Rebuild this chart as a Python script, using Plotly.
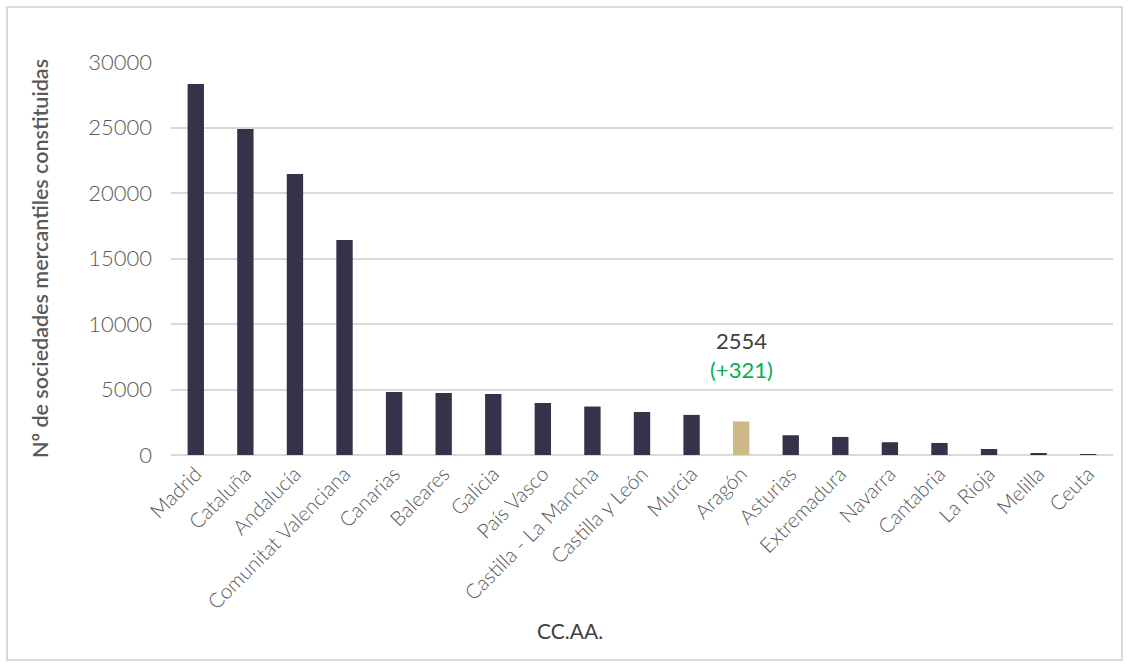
import plotly.graph_objects as go

categories = ["Madrid", "Cataluña", "Andalucía", "Comunitat Valenciana", "Canarias",
              "Baleares", "Galicia", "País Vasco", "Castilla - La Mancha", "Castilla y León",
              "Murcia", "Aragón", "Asturias", "Extremadura", "Navarra", "Cantabria",
              "La Rioja", "Melilla", "Ceuta"]
values = [28320, 24890, 21450, 16410, 4810, 4730, 4660, 3970, 3700, 3280,
          3060, 2554, 1510, 1380, 975, 920, 460, 80, 40]
highlight = "Aragón"
highlight_value_label = "2554"
highlight_change_label = "(+321)"
y_ticks = [0, 5000, 10000, 15000, 20000, 25000, 30000]
y_ticktext = ["0", "5000", "10000", "15000", "20000", "25000", "30000"]
x_title = "CC.AA."
y_title = "Nº de sociedades mercantiles constituidas"

dark = "#353249"
gold = "#CDB887"
colors = [gold if c == highlight else dark for c in categories]

fig = go.Figure(go.Bar(x=categories, y=values, marker_color=colors,
                       marker_line_width=0, width=0.33))

L, R, T, B = 171, 1131 - 1113, 62, 666 - 455
W, H = 1131, 666
pw, ph = W - L - R, H - T - B

fig.update_layout(
    width=W, height=H,
    margin=dict(l=L, r=R, t=T, b=B),
    plot_bgcolor="white", paper_bgcolor="white",
    font=dict(family="Lato, sans-serif", color="#595959"),
    showlegend=False,
    xaxis=dict(tickangle=-45, tickfont=dict(size=20.5, color="#595959", weight=300),
               showgrid=False, showline=False, ticks="", ticklabelstandoff=2),
    yaxis=dict(range=[0, 30000], tickvals=y_ticks, ticktext=y_ticktext,
               tickfont=dict(size=22, color="#595959", weight=300),
               ticklabelstandoff=18,
               gridcolor="#d9d9d9", gridwidth=1.5, zeroline=True, zerolinecolor="#d9d9d9",
               zerolinewidth=1.5, showline=False, ticks="", ticklen=0,
               title=dict(text=y_title,
                          font=dict(size=21.5, color="#595959", weight=600), standoff=33)),
    shapes=[dict(type="rect", xref="paper", yref="paper",
                 x0=(7 - L) / pw, x1=(1122 - L) / pw,
                 y0=(H - B - 660) / ph, y1=(H - B - 7) / ph,
                 line=dict(color="#d9d9d9", width=2), layer="below")],
    annotations=[
        dict(x=highlight, y=values[categories.index(highlight)],
             text=f"{highlight_value_label}<br><span style='color:#00B050'>{highlight_change_label}</span>",
             showarrow=False, yanchor="bottom", yshift=37,
             font=dict(size=22, color="#404040")),
        dict(xref="paper", yref="paper", x=(570 - L) / pw, y=(H - B - 630) / ph,
             text=x_title, showarrow=False, xanchor="center", yanchor="middle",
             font=dict(size=21, color="#404040")),
    ],
)

fig.write_html("out.html", config={"displayModeBar": False},
               post_script="document.body.style.margin='0';")
